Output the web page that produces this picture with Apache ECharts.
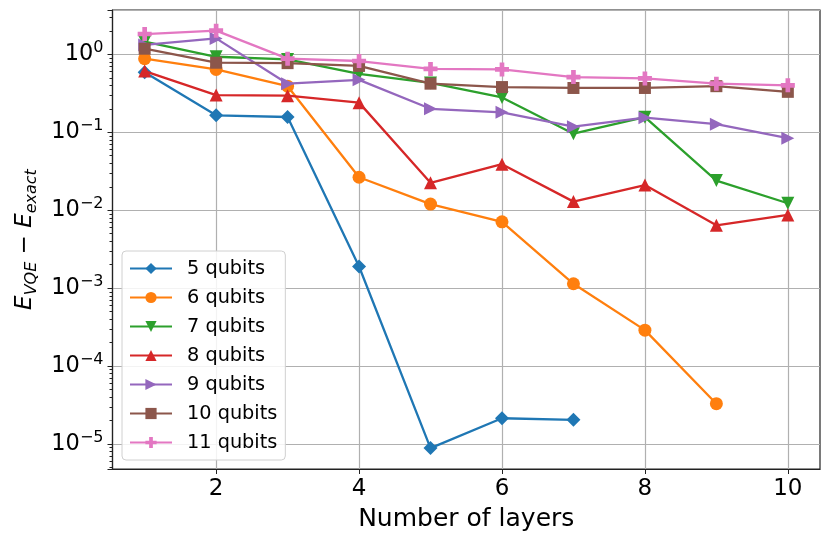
<!DOCTYPE html>
<html><head><meta charset="utf-8">
<script src="https://cdn.jsdelivr.net/npm/echarts@6/dist/echarts.min.js"></script>
<style>html,body{margin:0;padding:0;background:#fff}#c{width:830px;height:544px}</style>
</head><body><div id="c"></div>
<script>
const layers = [1,2,3,4,5,6,7,8,9,10];
const xTicks = [2,4,6,8,10];
const names = ['5 qubits','6 qubits','7 qubits','8 qubits','9 qubits','10 qubits','11 qubits'];
const q5  = [0.59,0.165,0.157,0.0019,8.9e-6,2.15e-5,2.05e-5];
const q6  = [0.88,0.64,0.39,0.0265,0.012,0.0071,0.00114,0.00029,3.3e-5];
const q7  = [1.45,0.93,0.86,0.56,0.43,0.28,0.096,0.156,0.024,0.0123];
const q8  = [0.61,0.30,0.295,0.24,0.0225,0.039,0.0129,0.021,0.0064,0.0087];
const q9  = [1.32,1.60,0.42,0.47,0.20,0.18,0.118,0.154,0.127,0.084];
const q10 = [1.18,0.78,0.77,0.71,0.42,0.38,0.37,0.37,0.39,0.33];
const q11 = [1.82,2.01,0.88,0.82,0.65,0.64,0.51,0.49,0.42,0.40];
const allData = [q5,q6,q7,q8,q9,q10,q11];
const decades = [1e-6,1e-5,1e-4,1e-3,1e-2,1e-1,1e0];
const mantissas = [2,3,4,5,6,7,8,9];
const minorTicks = [];
decades.forEach(d=>mantissas.forEach(m=>{const v=m*d; if(v>4.8e-6 && v<3.7) minorTicks.push(v);}));

const colors = ['#1f77b4','#ff7f0e','#2ca02c','#d62728','#9467bd','#8c564b','#e377c2'];
const plusPath = 'path://M-1,-3H1V-1H3V1H1V3H-1V1H-3V-1H-1Z';
const symbols = ['diamond','circle','triangle','triangle','triangle','rect',plusPath];
const rotates = [0,0,180,0,-90,0,0];
const sizes = [14,13,13,13,13,12,14];

const series = allData.map((arr,i)=>({
  name: names[i], type:'line',
  data: arr.map((v,j)=>[layers[j], v]),
  symbol: symbols[i], symbolRotate: rotates[i], symbolSize: sizes[i],
  showAllSymbol: true,
  itemStyle:{color:colors[i]},
  lineStyle:{color:colors[i], width:2.3},
  z: 2+i
}));

const chart = echarts.init(document.getElementById('c'), null, {renderer:'canvas'});
chart.setOption({
  animation:false,
  backgroundColor:'#fff',
  textStyle:{fontFamily:'DejaVu Sans'},
  grid:{left:112.5, right:10, top:10, bottom:75, show:true, borderColor:'#222', borderWidth:1.2,
        containLabel:false, outerBoundsMode:'none'},
  legend:{
    orient:'vertical', left:122, top:251,
    data: names,
    itemWidth:42, itemHeight:14, itemGap:10, padding:[8,8,8,7],
    textStyle:{fontSize:19.3, color:'#000', fontFamily:'DejaVu Sans', padding:[0,0,0,10]},
    backgroundColor:'rgba(255,255,255,0.85)', borderColor:'#d0d0d0', borderWidth:1, borderRadius:4
  },
  xAxis:{
    type:'value', min:0.55, max:10.45,
    name:'Number of layers', nameLocation:'middle', nameGap:38,
    nameTextStyle:{fontSize:25, color:'#000', fontFamily:'DejaVu Sans'},
    axisLine:{show:true, onZero:false, lineStyle:{color:'#222', width:1.2}},
    axisTick:{show:true, inside:false, length:5, customValues:xTicks, lineStyle:{color:'#222'}},
    axisLabel:{fontSize:23, color:'#000', margin:9, customValues:xTicks},
    splitLine:{show:true, lineStyle:{color:'#b0b0b0', width:1.2}}
  },
  yAxis:[{
    type:'log', logBase:10, min:4.8e-6, max:3.7,
    name:'{e|E}{s|VQE}{m| − }{e|E}{s|exact}', nameLocation:'middle', nameGap:72, nameRotate:90,
    nameTextStyle:{rich:{
      e:{fontSize:23, fontStyle:'italic', color:'#000', fontFamily:'DejaVu Sans', lineHeight:30},
      s:{fontSize:16, fontStyle:'italic', color:'#000', fontFamily:'DejaVu Sans', lineHeight:30, padding:[12,0,0,0]},
      m:{fontSize:23, color:'#000', fontFamily:'DejaVu Sans', lineHeight:30}
    }},
    axisLine:{show:true, lineStyle:{color:'#222', width:1.2}},
    axisTick:{show:true, length:5, lineStyle:{color:'#222'}},
    axisLabel:{fontSize:22.5, color:'#000', margin:9,
      formatter:v=>{const e=Math.log10(v); const r=Math.round(e); if(Math.abs(e-r)>1e-6) return ''; return '10{s|'+(r<0?'−'+(-r):r)+'}';},
      rich:{s:{fontSize:16, color:'#000', fontFamily:'DejaVu Sans', padding:[0,0,12,0]}}
    },
    splitLine:{show:true, lineStyle:{color:'#b0b0b0', width:1.2}}
  },{
    type:'log', logBase:10, min:4.8e-6, max:3.7, position:'left', offset:0,
    axisLine:{show:false}, axisLabel:{show:false}, splitLine:{show:false},
    axisTick:{show:true, length:3, customValues:minorTicks, lineStyle:{color:'#222', width:1}}
  }],
  series: series
});
</script></body></html>
